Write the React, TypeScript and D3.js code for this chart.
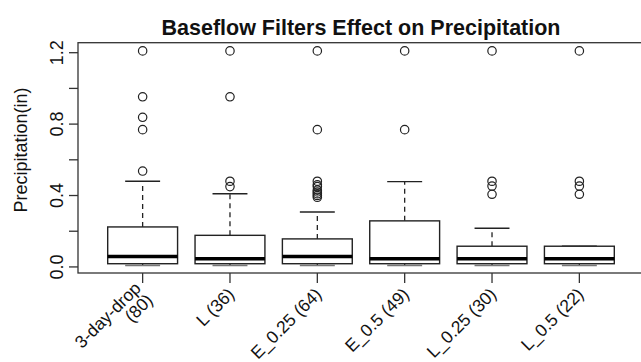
import React from "react";
import * as d3 from "d3";

const categories = ["3-day-drop\n(80)", "L (36)", "E_0.25 (64)", "E_0.5 (49)", "L_0.25 (30)", "L_0.5 (22)"];
const lowerWhisker = [0.008, 0.008, 0.008, 0.008, 0.008, 0.008];
const q1 = [0.018, 0.018, 0.018, 0.018, 0.018, 0.018];
const median = [0.059, 0.046, 0.059, 0.046, 0.046, 0.046];
const q3 = [0.224, 0.177, 0.157, 0.258, 0.116, 0.116];
const upperWhisker = [0.48, 0.41, 0.308, 0.478, 0.217, 0.116];
const outliers = [
  [0.537, 0.769, 0.838, 0.953, 1.21],
  [0.45, 0.48, 0.953, 1.21],
  [0.39, 0.4, 0.41, 0.42, 0.43, 0.45, 0.46, 0.48, 0.769, 1.21],
  [0.769, 1.21],
  [0.407, 0.453, 0.48, 1.21],
  [0.407, 0.453, 0.48, 1.21],
];
const yTicks = [0, 0.2, 0.4, 0.6, 0.8, 1.0, 1.2];
const yTickLabels = ["0.0", "", "0.4", "", "0.8", "", "1.2"];
const title = "Baseflow Filters Effect on Precipitation";
const yLabel = "Precipitation(in)";

const W = 641;
const H = 362;
const FONT = "'Liberation Sans', Arial, Helvetica, sans-serif";

export default function App() {
  const x = d3.scaleLinear().domain([0.26, 6.74]).range([78, 644]);
  const y = d3.scaleLinear().domain([-0.034, 1.256]).range([273, 42.7]);
  const unit = x(2) - x(1);
  const boxW = unit * 0.8;
  const stapleW = boxW * 0.5;
  const line = "#222";

  return (
    <svg width={W} height={H} style={{ position: "absolute", left: 0, top: 0, background: "#fff" }}>
      <rect x={0} y={0} width={W} height={H} fill="#fff" />
      <text x={(x(0.26) + x(6.74)) / 2} y={35} textAnchor="middle" fontFamily={FONT} fontWeight="bold" fontSize={21.5} fill="#111">
        {title}
      </text>
      {/* frame */}
      <rect x={x(0.26)} y={y(1.256)} width={x(6.74) - x(0.26)} height={y(-0.034) - y(1.256)} fill="none" stroke="#333" strokeWidth={1.3} />
      {/* y axis */}
      {yTicks.map((t, i) => (
        <g key={"yt" + i}>
          <line x1={x(0.26) - 9} x2={x(0.26)} y1={y(t)} y2={y(t)} stroke="#333" strokeWidth={1.3} />
          {yTickLabels[i] && (
            <text transform={`translate(${x(0.26) - 15},${y(t)}) rotate(-90)`} textAnchor="middle" fontFamily={FONT} fontSize={18} fill="#111">
              {yTickLabels[i]}
            </text>
          )}
        </g>
      ))}
      <text transform={`translate(27,${150}) rotate(-90)`} textAnchor="middle" fontFamily={FONT} fontSize={18} fill="#111">
        {yLabel}
      </text>
      {/* x axis ticks & labels */}
      {categories.map((c, i) => {
        const cx = x(i + 1);
        const lines = c.split("\n");
        const n = lines.length;
        return (
          <g key={"xt" + i}>
            <line x1={cx} x2={cx} y1={y(-0.034)} y2={y(-0.034) + 10} stroke="#333" strokeWidth={1.3} />
            <g transform={`translate(${cx + 1},${291}) rotate(-45)`}>
              {lines.map((l, j) => (
                <text key={j} x={0} y={(j - (n - 1) / 2) * 17} dy="0.35em" textAnchor="end" fontFamily={FONT} fontSize={17.5} fill="#111">
                  {l}
                </text>
              ))}
            </g>
          </g>
        );
      })}
      {/* boxes */}
      {categories.map((_, i) => {
        const cx = x(i + 1);
        return (
          <g key={"b" + i}>
            <line x1={cx} x2={cx} y1={y(q3[i])} y2={y(upperWhisker[i])} stroke={line} strokeWidth={1.3} strokeDasharray="5,4" />
            <line x1={cx} x2={cx} y1={y(q1[i])} y2={y(lowerWhisker[i])} stroke={line} strokeWidth={1.3} strokeDasharray="5,4" />
            <line x1={cx - stapleW / 2} x2={cx + stapleW / 2} y1={y(upperWhisker[i])} y2={y(upperWhisker[i])} stroke={line} strokeWidth={1.4} />
            <line x1={cx - stapleW / 2} x2={cx + stapleW / 2} y1={y(lowerWhisker[i])} y2={y(lowerWhisker[i])} stroke="#777" strokeWidth={1.6} />
            <rect x={cx - boxW / 2} y={y(q3[i])} width={boxW} height={y(q1[i]) - y(q3[i])} fill="#fff" stroke={line} strokeWidth={1.4} />
            <line x1={cx - boxW / 2} x2={cx + boxW / 2} y1={y(median[i])} y2={y(median[i])} stroke="#000" strokeWidth={3.5} />
            {outliers[i].map((o, k) => (
              <circle key={k} cx={cx} cy={y(o)} r={4.2} fill="none" stroke={line} strokeWidth={1.2} />
            ))}
          </g>
        );
      })}
    </svg>
  );
}
